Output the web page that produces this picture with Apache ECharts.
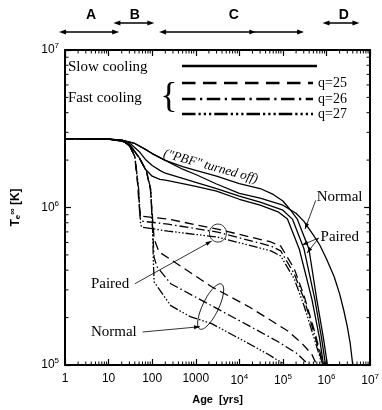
<!DOCTYPE html>
<html>
<head>
<meta charset="utf-8">
<script src="https://cdn.jsdelivr.net/npm/echarts@6/dist/echarts.min.js"></script>
<style>
  html, body { margin: 0; padding: 0; background: #fff; }
  #chart { width: 382px; height: 410px; }
</style>
</head>
<body>
<div id="chart"></div>
<script>
// Age [yrs] vs. surface temperature T [K]

// slow cooling (solid)
const slowPbfAge = [1, 10, 20, 40, 70, 100, 200, 500, 1e3, 3e3, 1e4, 3e4, 6e4, 1e5, 1.5e5, 2.13e5, 3.95e5, 5.95e5, 8.53e5, 1.05e6];
const slowPbfT = [2.74e6, 2.72e6, 2.68e6, 2.55e6, 2.34e6, 2.2e6, 1.99e6, 1.82e6, 1.72e6, 1.58e6, 1.42e6, 1.32e6, 1.21e6, 1.1e6, 9.61e5, 8.44e5, 5.45e5, 2.63e5, 1.47e5, 1e5];

const slowNormalAge = [1, 10, 20, 40, 70, 100, 200, 500, 1e3, 3e3, 1e4, 3e4, 1e5, 2e5, 3e5, 5e5, 7e5, 1e6, 1.5e6, 2e6, 2.5e6, 3e6, 3.5e6, 4e6];
const slowNormalT = [2.74e6, 2.72e6, 2.68e6, 2.55e6, 2.34e6, 2.2e6, 1.99e6, 1.75e6, 1.62e6, 1.41e6, 1.23e6, 1.145e6, 1.034e6, 9.2e5, 8.19e5, 6.68e5, 5.78e5, 4.71e5, 3.63e5, 2.83e5, 2.21e5, 1.75e5, 1.37e5, 1e5];

const slowPaired1Age = [1, 10, 20, 30, 50, 70, 100, 150, 200, 500, 1e3, 3e3, 1e4, 3e4, 8e4, 1.27e5, 2.37e5, 4.6e5, 6.95e5, 8.54e5];
const slowPaired1T = [2.74e6, 2.72e6, 2.66e6, 2.51e6, 2.08e6, 1.75e6, 1.58e6, 1.51e6, 1.49e6, 1.42e6, 1.36e6, 1.27e6, 1.128e6, 1.034e6, 9.34e5, 8.44e5, 5.45e5, 2.63e5, 1.47e5, 1e5];

const slowPaired2Age = [1, 10, 20, 30, 50, 70, 100, 150, 200, 500, 1e3, 3e3, 1e4, 3e4, 1e5, 1.65e5, 3.05e5, 5.37e5, 7.73e5, 9.5e5];
const slowPaired2T = [2.74e6, 2.72e6, 2.68e6, 2.58e6, 2.27e6, 2.02e6, 1.85e6, 1.72e6, 1.65e6, 1.53e6, 1.445e6, 1.32e6, 1.18e6, 1.08e6, 9.61e5, 8.44e5, 5.45e5, 2.63e5, 1.47e5, 1e5];

// fast cooling, paired
const q25PairedAge = [1, 10, 22.6, 30.8, 39.8, 46.5, 48.9, 51.5, 57, 231, 3150, 5.31e4, 8.89e4, 1.82e5, 3.05e5, 5.1e5, 8.54e5];
const q25PairedT = [2.74e6, 2.72e6, 2.62e6, 2.44e6, 2.11e6, 1.4e6, 1.128e6, 9.48e5, 8.81e5, 8.44e5, 7.29e5, 6.04e5, 5.69e5, 4.08e5, 2.75e5, 1.7e5, 1e5];

const q26PairedAge = [1, 10, 22.6, 30.8, 40, 47, 50, 53, 57, 231, 3150, 5.31e4, 8.89e4, 1.82e5, 3.05e5, 5e5, 8.2e5];
const q26PairedT = [2.74e6, 2.72e6, 2.62e6, 2.44e6, 2.11e6, 1.4e6, 1.128e6, 8.6e5, 8.19e5, 7.84e5, 6.98e5, 5.69e5, 5.3e5, 3.79e5, 2.63e5, 1.65e5, 1e5];

const q27PairedAge = [1, 10, 22.6, 30.8, 40, 48, 51, 54, 57, 231, 3150, 5.31e4, 8.89e4, 1.82e5, 3.05e5, 4.6e5, 8e5];
const q27PairedT = [2.74e6, 2.72e6, 2.62e6, 2.44e6, 2.11e6, 1.4e6, 1.1e6, 8e5, 7.51e5, 7.08e5, 6.49e5, 5.3e5, 4.92e5, 3.52e5, 2.38e5, 1.65e5, 1e5];

// fast cooling, normal
const q25NormalAge = [1, 10, 20, 30, 50, 74, 90.7, 100.5, 111, 144, 296, 2310, 1.63e4, 4.55e4, 1.27e5, 2.75e5, 4.6e5, 5.95e5];
const q25NormalT = [2.74e6, 2.72e6, 2.66e6, 2.51e6, 2.08e6, 1.7e6, 1.305e6, 9.07e5, 6.3e5, 5.22e5, 4.58e5, 3.14e5, 2.35e5, 1.97e5, 1.65e5, 1.37e5, 1.17e5, 1e5];

const q26NormalAge = [1, 10, 20, 30, 50, 74, 92, 103, 111, 130, 267, 2310, 1.63e4, 7.62e4, 2.13e5, 3.95e5];
const q26NormalT = [2.74e6, 2.72e6, 2.66e6, 2.51e6, 2.08e6, 1.7e6, 1.3e6, 7e5, 4.8e5, 4.2e5, 3.28e5, 2.38e5, 1.78e5, 1.41e5, 1.18e5, 1e5];

const q27NormalAge = [1, 10, 20, 30, 50, 74, 93, 103, 106, 111, 267, 743, 2310, 1.63e4, 4.55e4, 1.15e5];
const q27NormalT = [2.74e6, 2.72e6, 2.66e6, 2.51e6, 2.08e6, 1.7e6, 1.3e6, 7e5, 4.71e5, 3.37e5, 2.38e5, 2.03e5, 1.83e5, 1.37e5, 1.17e5, 1e5];

// legend entries and age ranges marked above the plot
const qLabels = ['q=25', 'q=26', 'q=27'];
const regionNames = ['A', 'B', 'C', 'D'];
const regionFrom = [0.73, 12.9, 144, 8.1e5];
const regionTo = [17.5, 112, 3.05e5, 5.7e6];
const regionLabelAge = [3.95, 39.8, 7.5e3, 2.5e6];

const DASH = [9, 5];
const DASHDOT = [9, 3, 1.5, 3];
const DASHDOTDOT = [9, 2, 1.5, 2, 1.5, 2, 1.5, 2];

const SERIF = '"Liberation Serif", "Times New Roman", serif';
const SANS = '"Liberation Sans", Arial, sans-serif';

const zip = (a, b) => a.map((v, i) => [v, b[i]]);

const line = (name, ages, temps, dash) => ({
    name: name,
    type: 'line',
    data: zip(ages, temps),
    showSymbol: false,
    silent: true,
    lineStyle: { color: '#000', width: 1.3, type: dash || 'solid' }
});

const supLabel = (v) => {
    const e = Math.round(Math.log10(v));
    return e <= 3 ? String(Math.round(v)) : '10{sup|' + e + '}';
};

const labelRich = {
    sup: { fontSize: 8, verticalAlign: 'bottom', padding: [0, 0, 8, 0], fontFamily: SANS, color: '#000' }
};

const axisBase = {
    type: 'log',
    logBase: 10,
    axisLine: { show: true, lineStyle: { color: '#000', width: 2 } },
    axisTick: { show: true, inside: true, length: 6, lineStyle: { color: '#000', width: 1.2 } },
    splitLine: { show: false },
    minorTick: { show: false }
};

const chart = echarts.init(document.getElementById('chart'));

const option = {
    animation: false,
    backgroundColor: '#fff',
    grid: { left: 61, right: 7, top: 50, bottom: 43 },
    xAxis: [
        Object.assign({}, axisBase, {
            min: 1, max: 1e7, splitNumber: 7, position: 'bottom',
            name: 'Age  [yrs]', nameLocation: 'middle', nameGap: 29,
            nameTextStyle: { fontFamily: SANS, fontSize: 11, fontWeight: 'bold', color: '#000' },
            axisLabel: {
                margin: 8, color: '#000', fontFamily: SANS, fontSize: 12,
                formatter: supLabel, rich: labelRich
            }
        }),
        Object.assign({}, axisBase, {
            min: 1, max: 1e7, splitNumber: 7, position: 'top', axisLabel: { show: false }
        })
    ],
    yAxis: [
        Object.assign({}, axisBase, {
            min: 1e5, max: 1e7, position: 'left',
            name: 'T{sub|e}{sup|∞} [K]', nameLocation: 'middle', nameGap: 42, nameRotate: 90,
            nameTextStyle: {
                fontFamily: SANS, fontSize: 12, fontWeight: 'bold', color: '#000',
                rich: {
                    sub: { fontSize: 8, fontWeight: 'bold', fontFamily: SANS, verticalAlign: 'top', padding: [6, 0, 0, 0] },
                    sup: { fontSize: 9, fontWeight: 'bold', fontFamily: SANS, verticalAlign: 'bottom', padding: [0, 0, 6, 0] }
                }
            },
            axisLabel: {
                margin: 6, color: '#000', fontFamily: SANS, fontSize: 12,
                formatter: supLabel, rich: labelRich
            }
        }),
        Object.assign({}, axisBase, {
            min: 1e5, max: 1e7, position: 'right', axisLabel: { show: false }
        })
    ],
    series: [
        line('PBF off', slowPbfAge, slowPbfT),
        line('Normal', slowNormalAge, slowNormalT),
        line('Paired 1', slowPaired1Age, slowPaired1T),
        line('Paired 2', slowPaired2Age, slowPaired2T),
        line('q=25 paired', q25PairedAge, q25PairedT, DASH),
        line('q=26 paired', q26PairedAge, q26PairedT, DASHDOT),
        line('q=27 paired', q27PairedAge, q27PairedT, DASHDOTDOT),
        line('q=25 normal', q25NormalAge, q25NormalT, DASH),
        line('q=26 normal', q26NormalAge, q26NormalT, DASHDOT),
        line('q=27 normal', q27NormalAge, q27NormalT, DASHDOTDOT)
    ]
};

chart.setOption(option);

// --- annotation layer (ticks, legend, labels, arrows) ---
const P = (a, t) => chart.convertToPixel({ seriesIndex: 0 }, [a, t]);
const X = (a) => chart.convertToPixel({ xAxisIndex: 0 }, a);
const Y = (t) => chart.convertToPixel({ yAxisIndex: 0 }, t);

const g = [];
const seg = (x1, y1, x2, y2, w, dash) => g.push({
    type: 'line', silent: true,
    shape: { x1: x1, y1: y1, x2: x2, y2: y2 },
    style: { stroke: '#000', lineWidth: w || 1, lineDash: dash || null }
});
const txt = (x, y, s, font, align, rot) => g.push({
    type: 'text', silent: true, x: x, y: y, rotation: rot || 0,
    style: { text: s, font: font, fill: '#000', align: align || 'left', verticalAlign: 'middle',
             textAlign: align || 'left', textVerticalAlign: 'middle' }
});
const head = (x, y, fx, fy, len, wid) => {
    const ang = Math.atan2(y - fy, x - fx);
    const bx = x - len * Math.cos(ang), by = y - len * Math.sin(ang);
    const nx = -Math.sin(ang) * wid / 2, ny = Math.cos(ang) * wid / 2;
    g.push({ type: 'polygon', silent: true,
        shape: { points: [[x, y], [bx + nx, by + ny], [bx - nx, by - ny]] },
        style: { fill: '#000' } });
};
const arrow = (x1, y1, x2, y2) => { seg(x1, y1, x2, y2, 0.8); head(x2, y2, x1, y1, 6, 4); };

// minor ticks on all four sides
const plotTop = Y(1e7), plotBottom = Y(1e5), plotLeft = X(1), plotRight = X(1e7);
for (let k = 0; k < 7; k++) {
    for (let m = 2; m < 10; m++) {
        const x = X(m * Math.pow(10, k));
        seg(x, plotBottom, x, plotBottom - 3.5, 1);
        seg(x, plotTop, x, plotTop + 3.5, 1);
    }
}
for (let k = 5; k < 7; k++) {
    for (let m = 2; m < 10; m++) {
        const y = Y(m * Math.pow(10, k));
        seg(plotLeft, y, plotLeft + 3.5, y, 1);
        seg(plotRight, y, plotRight - 3.5, y, 1);
    }
}

// legend block
txt(68, 67, 'Slow cooling', '15px ' + SERIF);
seg(182, 66, 317, 66, 2.4);
txt(68, 98, 'Fast cooling', '15px ' + SERIF);
txt(169, 98, '{', '300 36px ' + SERIF, 'center');
[DASH, DASHDOT, DASHDOTDOT].forEach((d, i) => {
    const y = [83, 99, 114][i];
    seg(182, y, 313, y, 2.4, d.map(v => v * 1.5));
    txt(318, y, qLabels[i], '14px ' + SERIF);
});

// age ranges A-D
regionNames.forEach((n, i) => {
    const y = (i % 2 === 0) ? 32 : 23;
    const x1 = X(regionFrom[i]), x2 = X(regionTo[i]);
    seg(x1 + 3, y, x2 - 3, y, 1.5);
    head(x1, y, x2, y, 7, 5);
    head(x2, y, x1, y, 7, 5);
    txt(X(regionLabelAge[i]), 15, n, 'bold 14px ' + SANS, 'center');
});
{
    const xm = X(2.1e4);
    head(xm + 2, 32, xm - 10, 32, 6, 5);
}

// "PBF" turned off label along the upper curve
const pbf = P(2.2e3, 1.82e6);
txt(pbf[0], pbf[1], '("PBF" turned off)', 'italic 13px ' + SERIF, 'center', -0.27);

// circle round the paired fast curves
const c1 = P(3.23e3, 6.88e5);
g.push({ type: 'ellipse', silent: true, x: c1[0], y: c1[1],
    shape: { cx: 0, cy: 0, rx: 8.5, ry: 9 },
    style: { fill: 'none', stroke: '#000', lineWidth: 0.8 } });
// ellipse round the normal fast curves
const c2 = P(2.2e3, 2.35e5);
g.push({ type: 'ellipse', silent: true, x: c2[0], y: c2[1], rotation: -0.45,
    shape: { cx: 0, cy: 0, rx: 8, ry: 25 },
    style: { fill: 'none', stroke: '#000', lineWidth: 0.8 } });

// left labels
let p = P(3.94, 3.28e5);
txt(p[0], p[1], 'Paired', '15px ' + SERIF);
let a = P(40, 3.28e5), b = P(2310, 6.12e5);
arrow(a[0], a[1], b[0], b[1]);
p = P(3.94, 1.63e5);
txt(p[0], p[1], 'Normal', '15px ' + SERIF);
a = P(60.4, 1.62e5); b = P(1.25e3, 1.75e5);
arrow(a[0], a[1], b[0], b[1]);

// right labels
p = P(5.94e5, 1.16e6);
txt(p[0], p[1], 'Normal', '15px ' + SERIF);
a = P(5.65e5, 1.11e6); b = P(3.21e5, 7.29e5);
arrow(a[0], a[1], b[0], b[1]);
p = P(7.3e5, 6.49e5);
txt(p[0], p[1], 'Paired', '15px ' + SERIF);
a = P(6.6e5, 6.4e5);
b = P(2.75e5, 5.78e5);
arrow(a[0], a[1], b[0], b[1]);
b = P(3.57e5, 5.14e5);
arrow(a[0], a[1], b[0], b[1]);

chart.setOption({ graphic: { elements: g } });
</script>
</body>
</html>
